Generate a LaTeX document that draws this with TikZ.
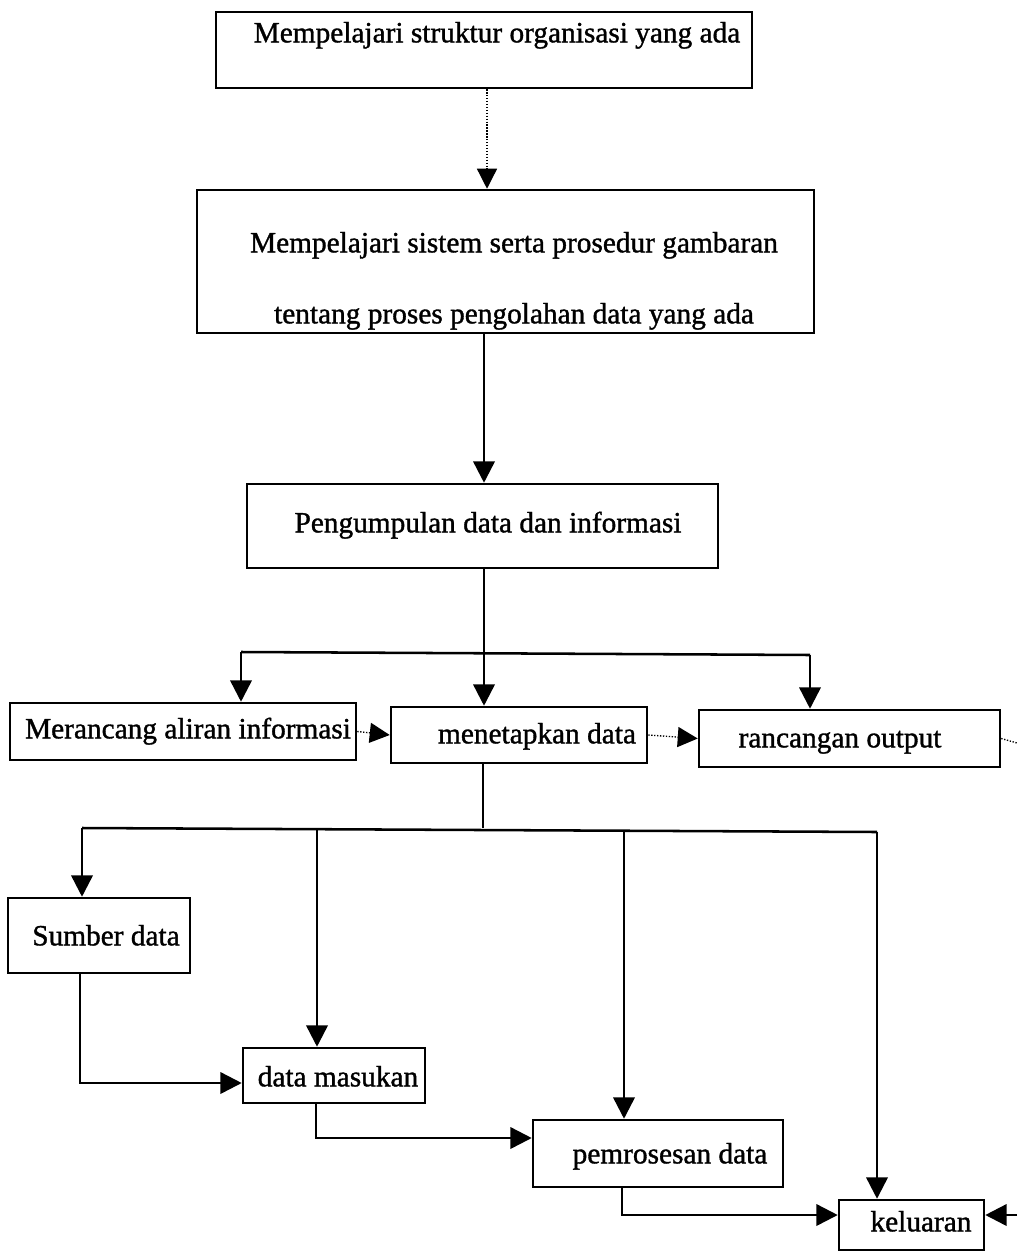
\documentclass[tikz,border=0pt]{standalone}
\usepackage{fontspec}
\setmainfont{Liberation Serif}[FakeBold=1.2]
\usetikzlibrary{arrows.meta}
\begin{document}
\begin{tikzpicture}[x=0.75pt,y=-0.75pt,
  box/.style={draw, line width=1.9pt, inner sep=0pt, rectangle},
  lbl/.style={inner sep=0pt, text height=15pt, text depth=4pt, font=\fontsize{22}{26}\selectfont},
  conn/.style={line width=1.9pt},
  arr/.style={conn, -{Triangle[width=16pt,length=16pt]}},
  dotarr/.style={line width=1pt, dash pattern=on 1pt off 1.2pt, -{Triangle[width=15pt,length=15pt]}},
  dotline/.style={line width=1pt, dash pattern=on 1pt off 1.2pt}]
\useasboundingbox (0,0) rectangle (1017,1255);

% boxes
\node[box, minimum width=402pt, minimum height=57pt] (b1) at (484,50) {};
\node[lbl] (t1) at (497,35) {Mempelajari struktur organisasi yang ada};

\node[box, minimum width=462.75pt, minimum height=107.25pt] (b2) at (505.5,261.5) {};
\node[lbl] (t2a) at (514,245) {Mempelajari sistem serta prosedur gambaran};
\node[lbl] (t2b) at (514,316) {tentang proses pengolahan data yang ada};

\node[box, minimum width=353.25pt, minimum height=63pt] (b3) at (482.5,526) {};
\node[lbl] (t3) at (488,525) {Pengumpulan data dan informasi};

\node[box, minimum width=259.5pt, minimum height=42.75pt] (b4) at (183,731.5) {};
\node[lbl] (t4) at (188,731) {Merancang aliran informasi};

\node[box, minimum width=192pt, minimum height=42pt] (b5) at (519,735) {};
\node[lbl] (t5) at (537,736) {menetapkan data};

\node[box, minimum width=225.75pt, minimum height=42.75pt] (b6) at (849.5,738.5) {};
\node[lbl] (t6) at (840,740) {rancangan output};

\node[box, minimum width=136.5pt, minimum height=56.25pt] (b7) at (99,935.5) {};
\node[lbl] (t7) at (106,938) {Sumber data};

\node[box, minimum width=136.5pt, minimum height=41.25pt] (b8) at (334,1075.5) {};
\node[lbl] (t8) at (338,1079) {data masukan};

\node[box, minimum width=187.5pt, minimum height=50.25pt] (b9) at (658,1153.5) {};
\node[lbl] (t9) at (670,1156) {pemrosesan data};

\node[box, minimum width=108.75pt, minimum height=37.5pt] (b10) at (911.5,1225) {};
\node[lbl] (t10) at (921,1224) {keluaran};

% coordinates
\coordinate (c487) at (487,0);
\coordinate (c484) at (484,0);
\coordinate (j1) at (484,652);
\coordinate (j1l) at (241,652);
\coordinate (j1r) at (810,655);
\coordinate (j2) at (483,828);
\coordinate (j2l) at (82,828);
\coordinate (j2a) at (317,828);
\coordinate (j2b) at (624,830);
\coordinate (j2r) at (877,832);
\coordinate (k1) at (80,1083);
\coordinate (k2) at (316,1138);
\coordinate (k3) at (622,1215);
\coordinate (edge1) at (1017,743);
\coordinate (edge2) at (1017,1215);

% connectors
\draw[dotarr] (b1.south -| c487) -- (b2.north -| c487);
\draw[arr] (b2.south -| c484) -- (b3.north -| c484);

\draw[conn] (b3.south -| j1) -- (j1);
\draw[conn] (j1l) -- (j1r);
\draw[arr] (j1l) -- (b4.north -| j1l);
\draw[arr] (j1) -- (b5.north -| j1);
\draw[arr] (j1r) -- (b6.north -| j1r);

\draw[dotarr] (b4.east) -- (b5.west);
\draw[dotarr] (b5.east) -- (b6.west);
\draw[dotline] (b6.east) -- (edge1);

\draw[conn] (b5.south -| j2) -- (j2);
\draw[conn] (j2l) -- (j2r);
\draw[arr] (j2l) -- (b7.north -| j2l);
\draw[arr] (j2a) -- (b8.north -| j2a);
\draw[arr] (j2b) -- (b9.north -| j2b);
\draw[arr] (j2r) -- (b10.north -| j2r);

\draw[arr] (b7.south -| k1) -- (k1) -- (k1 -| b8.west);
\draw[arr] (b8.south -| k2) -- (k2) -- (k2 -| b9.west);
\draw[arr] (b9.south -| k3) -- (k3) -- (k3 -| b10.west);
\draw[arr] (edge2) -- (edge2 -| b10.east);
\end{tikzpicture}
\end{document}
